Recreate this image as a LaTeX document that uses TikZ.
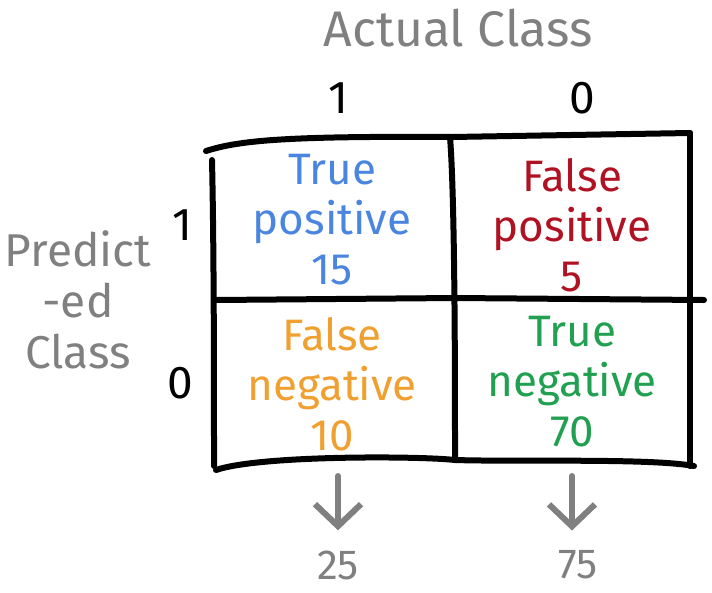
\documentclass[tikz,border=0pt]{standalone}
\usepackage{fontspec}
\setmainfont{Fira Sans}
\usepackage{tikz}
\usetikzlibrary{arrows.meta}

\definecolor{tpblue}{RGB}{74,134,224}
\definecolor{fpred}{RGB}{176,18,36}
\definecolor{fnorange}{RGB}{240,160,48}
\definecolor{tngreen}{RGB}{32,160,80}
\definecolor{labelgray}{RGB}{128,128,128}

\tikzset{
	grid line/.style={line width=6pt, line cap=round},
	cell/.style={align=center, font=\fontsize{44}{50}\selectfont},
	axis label/.style={text=labelgray, font=\fontsize{50}{52}\selectfont},
	tick label/.style={font=\fontsize{46}{48}\selectfont},
	down arrow/.style={draw=labelgray, line width=6pt, line cap=round,
		-{Straight Barb[length=22pt,width=46pt,line width=6pt]}}
}

\begin{document}
\begin{tikzpicture}[x=1pt,y=-1pt]
	\useasboundingbox (0,0) rectangle (712,592);

	% Draw grid
	%top
	\draw[grid line] (206,151) .. controls (240,140) and (290,136) .. (452,137) -- (690,133);
	%left
	\draw[grid line] (212,160) .. controls (214,250) and (214,380) .. (214,466);
	%middle
	\draw[grid line] (450,137) .. controls (455,200) and (455,380) .. (455,458);
	%right
	\draw[grid line] (690,133) -- (690,466);
	%centre
	\draw[grid line] (216,300) -- (455,298) -- (704,300);
	%bottom
	\draw[grid line] (216,470) .. controls (260,455) and (420,456) .. (455,460) .. controls (520,462) and (650,458) .. (694,466);

	% Column header
	\node[axis label] (actual) at (458,28) {Actual Class};
	\node[tick label] (col1) at (338,98) {1};
	\node[tick label] (col0) at (582,98) {0};

	% Row header
	\node[axis label, align=center, font=\fontsize{46}{51}\selectfont] (predicted) at (78,300) {Predict\\-ed\\Class};
	\node[tick label] (row1) at (182,225) {1};
	\node[tick label] (row0) at (180,383) {0};

	% Cells
	\node[cell, text=tpblue] (tp) at (332,220) {True\\positive\\15};
	\node[cell, text=fpred] (fp) at (572,225) {False\\positive\\5};
	\node[cell, text=fnorange] (fn) at (332,384) {False\\negative\\10};
	\node[cell, text=tngreen] (tn) at (572,382) {True\\negative\\70};

	% Column sums
	\node[axis label, inner sep=0pt, font=\fontsize{42}{42}\selectfont] (sum1) at (338,565) {25};
	\node[axis label, inner sep=0pt, font=\fontsize{42}{42}\selectfont] (sum0) at (578,565) {75};
	\coordinate (top1) at (338,476);
	\coordinate (top0) at (572,476);
	\draw[down arrow] (top1) -- ([yshift=20pt]sum1.north);
	\draw[down arrow] (top0) -- ([yshift=20pt, xshift=-6pt]sum0.north);
\end{tikzpicture}
\end{document}
